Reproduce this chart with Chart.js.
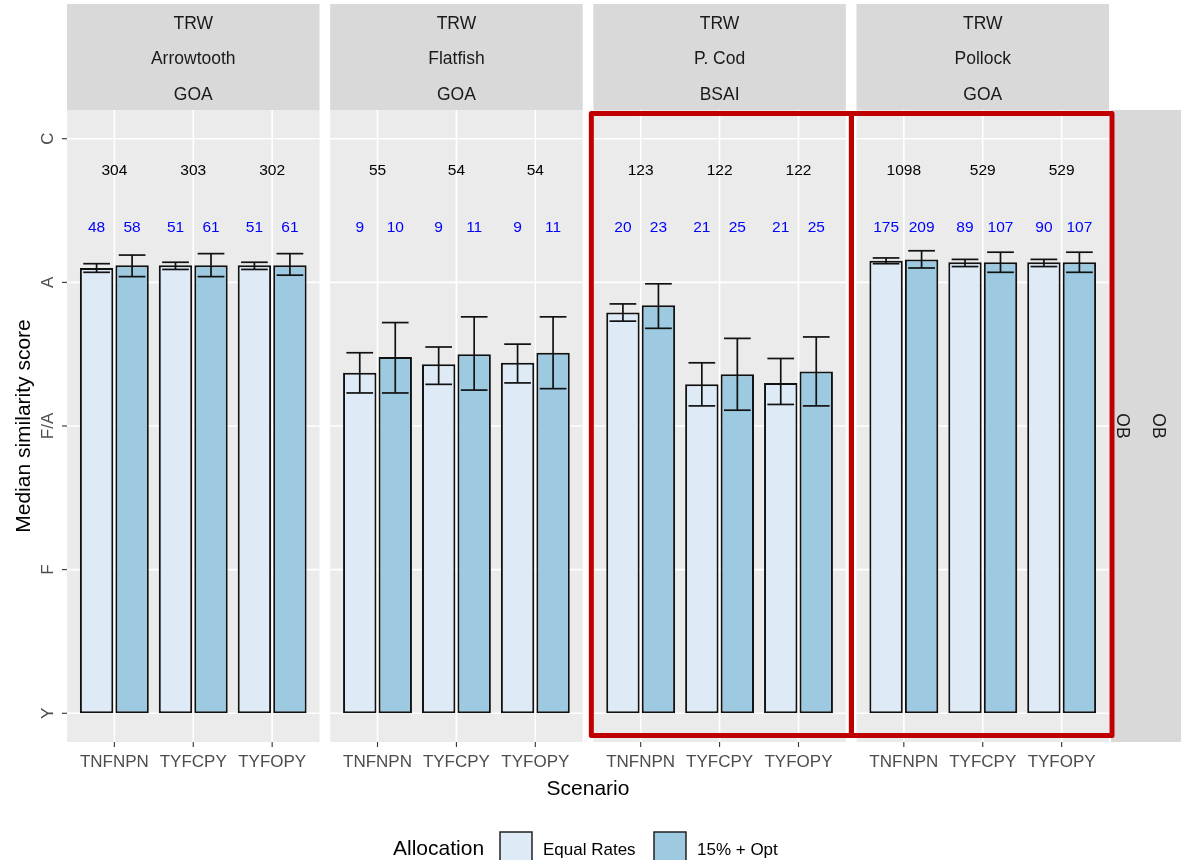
<!DOCTYPE html>
<html>
<head>
<meta charset="utf-8">
<script src="https://cdn.jsdelivr.net/npm/chart.js@4.4.1/dist/chart.umd.min.js"></script>
<style>
  html, body { margin: 0; padding: 0; background: #ffffff; }
  #wrap { position: relative; width: 1181px; height: 860px; overflow: hidden; }
</style>
</head>
<body>
<div id="wrap"><canvas id="chart" width="1181" height="860"></canvas></div>
<script>
// facet labels
const gears = ['TRW', 'TRW', 'TRW', 'TRW'];
const species = ['Arrowtooth', 'Flatfish', 'P. Cod', 'Pollock'];
const regions = ['GOA', 'GOA', 'BSAI', 'GOA'];
const rowStrips = ['OB', 'OB'];

const scenarios = ['TNFNPN', 'TYFCPY', 'TYFOPY'];
const scoreLabels = ['Y', 'F', 'F/A', 'A', 'C'];   // 0..4 on the y scale

// median similarity score, one row per species
const equalRates = [
  [3.10, 3.12, 3.12],
  [2.37, 2.43, 2.44],
  [2.79, 2.29, 2.30],
  [3.15, 3.14, 3.14]
];
const optRates = [
  [3.12, 3.12, 3.12],
  [2.48, 2.50, 2.51],
  [2.84, 2.36, 2.38],
  [3.16, 3.14, 3.14]
];
// error bar limits
const equalLo = [[3.07, 3.09, 3.09], [2.23, 2.29, 2.30], [2.73, 2.14, 2.15], [3.13, 3.11, 3.11]];
const equalHi = [[3.13, 3.14, 3.14], [2.51, 2.55, 2.57], [2.85, 2.44, 2.47], [3.17, 3.16, 3.16]];
const optLo = [[3.04, 3.04, 3.05], [2.23, 2.25, 2.26], [2.68, 2.11, 2.14], [3.10, 3.07, 3.07]];
const optHi = [[3.19, 3.20, 3.20], [2.72, 2.76, 2.76], [2.99, 2.61, 2.62], [3.22, 3.21, 3.21]];

// sample sizes printed above the bars
const totalN = [[304, 303, 302], [55, 54, 54], [123, 122, 122], [1098, 529, 529]];
const equalN = [[48, 51, 51], [9, 9, 9], [20, 21, 21], [175, 89, 90]];
const optN = [[58, 61, 61], [10, 11, 11], [23, 25, 25], [209, 107, 107]];

const FONT = '"Liberation Sans", Arial, sans-serif';
const panelSpan = 3.2;   // three scenarios plus 0.6 padding each side
const panelGap = 0.135;
const catOffset = 0.6;
const totalY = 3.78;
const groupY = 3.38;

const panelStart = p => p * (panelSpan + panelGap);
const xFor = (p, c) => panelStart(p) + catOffset + c;
const categoryX = [];
species.forEach((s, p) => scenarios.forEach((sc, c) => categoryX.push(xFor(p, c))));

function toPoints(rows) {
  const pts = [];
  rows.forEach((row, p) => row.forEach((v, c) => pts.push({ x: xFor(p, c), y: v })));
  return pts;
}

function line(ctx, x0, y0, x1, y1) {
  ctx.beginPath();
  ctx.moveTo(x0, y0);
  ctx.lineTo(x1, y1);
  ctx.stroke();
}

function panelBounds(chart, p) {
  const x = chart.scales.x;
  return [x.getPixelForValue(panelStart(p)), x.getPixelForValue(panelStart(p) + panelSpan)];
}

// panel backgrounds, grid, strips and axes
const facetPlugin = {
  id: 'facets',
  beforeDatasetsDraw(chart) {
    const { ctx, chartArea: area, scales: { x, y } } = chart;
    ctx.save();
    species.forEach((name, p) => {
      const [x0, x1] = panelBounds(chart, p);
      ctx.fillStyle = '#ebebeb';
      ctx.fillRect(x0, area.top, x1 - x0, area.bottom - area.top);

      ctx.strokeStyle = '#ffffff';
      ctx.lineWidth = 1.6;
      scoreLabels.forEach((lab, i) => {
        const py = y.getPixelForValue(i);
        line(ctx, x0, py, x1, py);
      });
      scenarios.forEach((sc, c) => {
        const px = x.getPixelForValue(xFor(p, c));
        line(ctx, px, area.top, px, area.bottom);
      });

      // top strip
      ctx.fillStyle = '#d9d9d9';
      ctx.fillRect(x0, 4, x1 - x0, area.top - 4);
      ctx.fillStyle = '#1a1a1a';
      ctx.font = '17.5px ' + FONT;
      ctx.textAlign = 'center';
      ctx.textBaseline = 'middle';
      const cx = (x0 + x1) / 2;
      ctx.fillText(gears[p], cx, area.top - 86);
      ctx.fillText(name, cx, area.top - 51);
      ctx.fillText(regions[p], cx, area.top - 15);

      // x ticks
      ctx.strokeStyle = '#333333';
      ctx.lineWidth = 1.1;
      ctx.fillStyle = '#4d4d4d';
      ctx.font = '17px ' + FONT;
      ctx.textBaseline = 'alphabetic';
      scenarios.forEach((sc, c) => {
        const px = x.getPixelForValue(xFor(p, c));
        line(ctx, px, area.bottom, px, area.bottom + 5);
        ctx.fillText(sc, px, area.bottom + 25);
      });
    });

    // y ticks, labels turned on their side
    ctx.strokeStyle = '#333333';
    ctx.lineWidth = 1.1;
    ctx.fillStyle = '#4d4d4d';
    ctx.font = '17px ' + FONT;
    scoreLabels.forEach((lab, i) => {
      const py = y.getPixelForValue(i);
      line(ctx, area.left - 5, py, area.left, py);
      ctx.save();
      ctx.translate(area.left - 19, py);
      ctx.rotate(-Math.PI / 2);
      ctx.textAlign = 'center';
      ctx.textBaseline = 'middle';
      ctx.fillText(lab, 0, 0);
      ctx.restore();
    });
    ctx.restore();
  },

  afterDatasetsDraw(chart) {
    const { ctx, chartArea: area, scales: { x, y } } = chart;
    ctx.save();

    // error bars
    const limits = [[equalLo, equalHi], [optLo, optHi]];
    chart.data.datasets.forEach((ds, d) => {
      const meta = chart.getDatasetMeta(d);
      const lo = limits[d][0].flat();
      const hi = limits[d][1].flat();
      ctx.strokeStyle = '#111111';
      ctx.lineWidth = 1.7;
      meta.data.forEach((bar, i) => {
        const half = bar.width * 0.4;
        const yl = y.getPixelForValue(lo[i]);
        const yh = y.getPixelForValue(hi[i]);
        line(ctx, bar.x, yl, bar.x, yh);
        line(ctx, bar.x - half, yl, bar.x + half, yl);
        line(ctx, bar.x - half, yh, bar.x + half, yh);
      });
    });

    // counts
    ctx.font = '15.5px ' + FONT;
    ctx.textAlign = 'center';
    ctx.textBaseline = 'middle';
    ctx.fillStyle = '#000000';
    totalN.flat().forEach((n, i) => {
      ctx.fillText(String(n), x.getPixelForValue(categoryX[i]), y.getPixelForValue(totalY));
    });
    ctx.fillStyle = '#0000ff';
    [equalN, optN].forEach((rows, d) => {
      const meta = chart.getDatasetMeta(d);
      rows.flat().forEach((n, i) => {
        ctx.fillText(String(n), meta.data[i].x, y.getPixelForValue(groupY));
      });
    });

    // right-hand strips
    ctx.fillStyle = '#d9d9d9';
    ctx.fillRect(area.right + 2, area.top, chart.width - area.right - 2, area.bottom - area.top);
    ctx.fillStyle = '#1a1a1a';
    ctx.font = '17.5px ' + FONT;
    rowStrips.forEach((lab, k) => {
      ctx.save();
      ctx.translate(area.right + 13 + k * 36, (area.top + area.bottom) / 2);
      ctx.rotate(Math.PI / 2);
      ctx.textAlign = 'center';
      ctx.textBaseline = 'middle';
      ctx.fillText(lab, 0, 0);
      ctx.restore();
    });

    // highlight boxes round the P. Cod and Pollock panels
    ctx.strokeStyle = '#c00000';
    ctx.lineWidth = 5;
    ctx.lineJoin = 'round';
    const [c0, c1] = panelBounds(chart, 2);
    const [d0, d1] = panelBounds(chart, 3);
    ctx.strokeRect(c0 - 2, area.top + 3.5, (c1 + 5.5) - (c0 - 2), area.bottom - area.top - 10);
    ctx.strokeRect(d0 - 5, area.top + 3.5, (d1 + 3) - (d0 - 5), area.bottom - area.top - 10);
    ctx.restore();
  },

  afterDraw(chart) {
    const { ctx, chartArea: area } = chart;
    ctx.save();
    ctx.fillStyle = '#000000';
    ctx.font = '21px ' + FONT;
    ctx.textAlign = 'center';
    ctx.textBaseline = 'alphabetic';
    ctx.fillText('Scenario', (area.left + area.right) / 2, area.bottom + 53);

    ctx.save();
    ctx.translate(24, (area.top + area.bottom) / 2);
    ctx.rotate(-Math.PI / 2);
    ctx.textBaseline = 'middle';
    ctx.fillText('Median similarity score', 0, 0);
    ctx.restore();

    // legend
    ctx.textAlign = 'left';
    ctx.fillText('Allocation', 393, 855);
    ctx.font = '17px ' + FONT;
    const keyX = [500, 654];
    chart.data.datasets.forEach((ds, d) => {
      ctx.fillStyle = ds.backgroundColor;
      ctx.fillRect(keyX[d], 832, 32, 34);
      ctx.strokeStyle = '#222222';
      ctx.lineWidth = 1.5;
      ctx.strokeRect(keyX[d], 832, 32, 34);
      ctx.fillStyle = '#000000';
      ctx.fillText(ds.label, keyX[d] + 43, 855);
    });
    ctx.restore();
  }
};

new Chart(document.getElementById('chart'), {
  type: 'bar',
  data: {
    datasets: [
      {
        label: 'Equal Rates',
        data: toPoints(equalRates),
        backgroundColor: '#deebf7',
        borderColor: '#111111',
        borderWidth: 2,
        borderSkipped: false
      },
      {
        label: '15% + Opt',
        data: toPoints(optRates),
        backgroundColor: '#9ecae1',
        borderColor: '#111111',
        borderWidth: 2,
        borderSkipped: false
      }
    ]
  },
  options: {
    responsive: false,
    animation: false,
    devicePixelRatio: 1,
    categoryPercentage: 0.9,
    barPercentage: 0.94,
    layout: { padding: { left: 67, right: 72, top: 110, bottom: 118 } },
    scales: {
      x: {
        type: 'linear',
        display: false,
        offset: false,
        min: 0,
        max: 4 * panelSpan + 3 * panelGap,
        afterBuildTicks: (scale) => { scale.ticks = categoryX.map(v => ({ value: v })); }
      },
      y: {
        type: 'linear',
        display: false,
        min: -0.2,
        max: 4.2
      }
    },
    plugins: {
      legend: { display: false },
      tooltip: { enabled: false }
    }
  },
  plugins: [facetPlugin]
});
</script>
</body>
</html>
